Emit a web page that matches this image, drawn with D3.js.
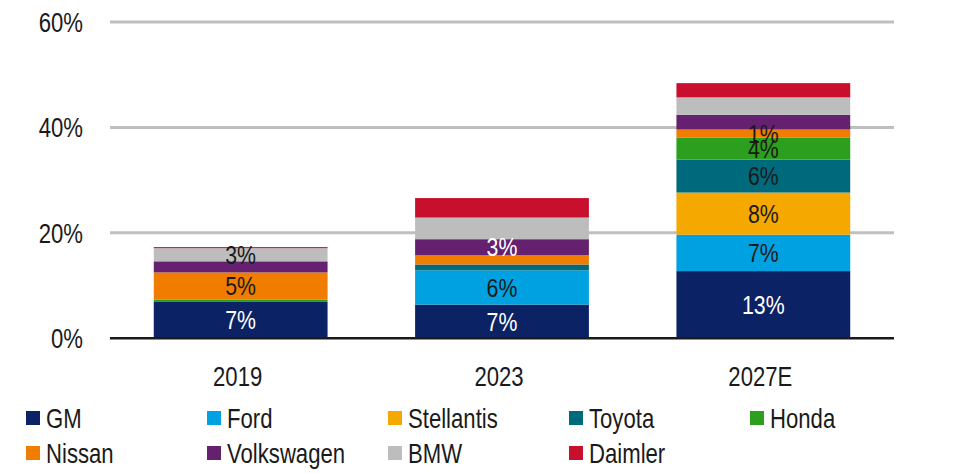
<!DOCTYPE html>
<html>
<head>
<meta charset="utf-8">
<script src="https://cdn.jsdelivr.net/npm/d3@7"></script>
<style>
  html, body { margin: 0; padding: 0; background: #fff; }
  svg { display: block; }
  text { font-family: "Liberation Sans", Arial, sans-serif; }
</style>
</head>
<body>
<svg id="chart" width="960" height="473"></svg>
<script>
// ---- data ----
const years = ["2019", "2023", "2027E"];
const makers = ["GM", "Ford", "Stellantis", "Toyota", "Honda", "Nissan", "Volkswagen", "BMW", "Daimler"];
const colors = ["#0b2265", "#00a1e0", "#f5a800", "#006a7d", "#2ca01e", "#f07d00", "#65206f", "#bdbdbd", "#c8102e"];
// share (%) per maker, one array per year
const share2019 = [7.0, 0, 0, 0, 0.3, 5.2, 2.1, 2.5, 0.2];
const share2023 = [6.4, 6.5, 0, 1.1, 0, 1.8, 3.0, 4.1, 3.7];
const share2027 = [12.75, 6.9, 8.0, 6.25, 4.2, 1.5, 2.8, 3.3, 2.7];
// data labels shown on segments (null = no label)
const labels2019 = ["7%", null, null, null, null, "5%", null, "3%", null];
const labels2023 = ["7%", "6%", null, null, null, null, "3%", null, null];
const labels2027 = ["13%", "7%", "8%", "6%", "4%", "1%", null, null, null];
const yTicks = [0, 20, 40, 60];

const shares = [share2019, share2023, share2027];
const labels = [labels2019, labels2023, labels2027];
const whiteLabel = new Set(["GM", "Volkswagen"]);

// ---- layout ----
const SX = 0.82; // narrow face emulation
const svg = d3.select("#chart");
const x = d3.scaleBand().domain(years).range([110, 894]).paddingInner(0.335).paddingOuter(0.1675);
const y = d3.scaleLinear().domain([0, 60]).range([338.3, 22]);

function addText(g, px, py, str, opts) {
  return g.append("text")
    .attr("transform", `translate(${px},${py}) scale(${SX},1)`)
    .attr("dy", "0.36em")
    .attr("text-anchor", opts.anchor || "start")
    .attr("font-size", opts.size || 27)
    .attr("fill", opts.fill || "#1a1a1a")
    .text(str);
}

// gridlines
svg.append("g").selectAll("line").data(yTicks.filter(t => t > 0)).join("line")
  .attr("x1", 110).attr("x2", 894)
  .attr("y1", d => y(d)).attr("y2", d => y(d))
  .attr("stroke", "#bfbfbf").attr("stroke-width", 3);

// y-axis labels
const ya = svg.append("g");
yTicks.forEach(t => addText(ya, 83, y(t), t + "%", { anchor: "end" }));

// stacked rows
const rows = years.map((yr, i) => {
  const r = { year: yr };
  makers.forEach((m, j) => r[m] = shares[i][j]);
  return r;
});
const stack = d3.stack().keys(makers)(rows);

const segs = svg.append("g");
stack.forEach((layer, j) => {
  segs.selectAll(null).data(layer).join("rect")
    .attr("x", d => x(d.data.year))
    .attr("width", x.bandwidth())
    .attr("y", d => y(d[1]))
    .attr("height", d => Math.max(0, y(d[0]) - y(d[1])))
    .attr("fill", colors[j]);
});

// baseline
svg.append("line").attr("x1", 110).attr("x2", 894)
  .attr("y1", y(0)).attr("y2", y(0))
  .attr("stroke", "#1a1a1a").attr("stroke-width", 2.5);

// data labels
const lab = svg.append("g");
stack.forEach((layer, j) => {
  layer.forEach((d, i) => {
    const t = labels[i][j];
    if (!t) return;
    addText(lab, x(d.data.year) + x.bandwidth() / 2, (y(d[0]) + y(d[1])) / 2, t,
      { anchor: "middle", size: 26, fill: whiteLabel.has(makers[j]) ? "#ffffff" : "#1a1a1a" });
  });
});

// x-axis labels
const xa = svg.append("g");
years.forEach(yr => addText(xa, x(yr) + x.bandwidth() / 2 - 3, 376, yr, { anchor: "middle" }));

// legend
const leg = svg.append("g");
makers.forEach((m, j) => {
  const col = j < 5 ? j : j - 5;
  const row = j < 5 ? 0 : 1;
  const gx = 26 + col * 181;
  const gy = 418 + row * 35;
  leg.append("rect").attr("x", gx).attr("y", gy - 7).attr("width", 14).attr("height", 14).attr("fill", colors[j]);
  addText(leg, gx + 20, gy, m, {});
});
</script>
</body>
</html>
